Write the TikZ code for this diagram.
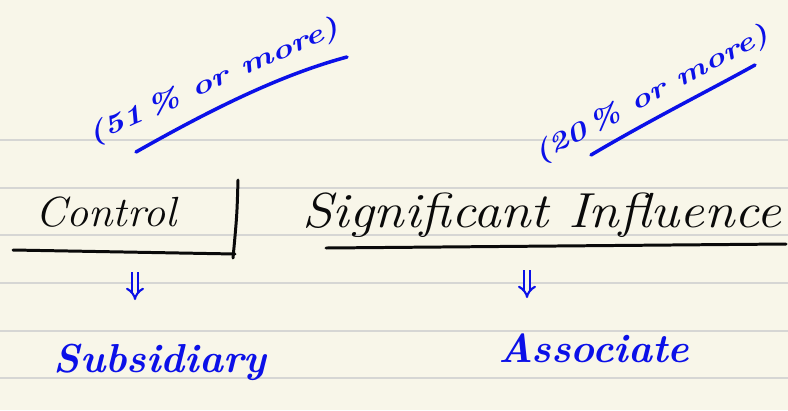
\documentclass[tikz,border=0pt]{standalone}
\usetikzlibrary{arrows.meta}
\definecolor{paper}{HTML}{F8F6E9}
\definecolor{rule}{HTML}{D6D6D4}
\definecolor{ink}{HTML}{0A0A0A}
\definecolor{pen}{HTML}{0B10E8}
\tikzset{
  ruleline/.style={draw=rule, line width=1.1pt},
  blk/.style={text=ink, inner sep=0pt},
  blu/.style={text=pen, inner sep=0pt},
  inkline/.style={draw=ink, line width=1.7pt, line cap=round},
  penline/.style={draw=pen, line width=2pt, line cap=round},
  darr/.style={draw=pen, line width=1.2pt, double=paper, double distance=2.2pt, -{Implies}},
}
\begin{document}
\begin{tikzpicture}[x=0.02cm, y=-0.02cm]
\fill[paper] (0,0) rectangle (788,410);
\useasboundingbox (0,0) rectangle (788,410);
\foreach \yy in {140,188,235,283,331,378} \draw[ruleline] (0,\yy) -- (788,\yy);
% annotations
\node[blu, rotate=24, font=\bfseries\itshape\fontsize{15}{18}\selectfont, xscale=1.35] (c51) at (214,82) {(51\,\% or more)};
\draw[penline] (136,152) .. controls (210,110) and (280,75) .. (347,57);
\node[blu, rotate=28, font=\bfseries\itshape\fontsize{15}{18}\selectfont, xscale=1.3] (c20) at (652,95) {(20\,\% or more)};
\draw[penline] (591,155) .. controls (650,120) and (710,90) .. (755,65);
% headings
\node[blk, font=\itshape\fontsize{24}{28}\selectfont, xscale=1.05] (ctrl) at (106,212) {Control};
\draw[inkline] (13,250) -- (235,254);
\draw[inkline] (238,180) .. controls (237,215) .. (233,258);
\node[blk, font=\itshape\fontsize{28}{32}\selectfont, xscale=1.12] (sig) at (542,215) {Significant Influence};
\draw[inkline] (326,248) -- (786,244);
% arrows
\coordinate (a1s) at (135,272);
\coordinate (a1e) at (135,300);
\coordinate (a2s) at (527,270);
\coordinate (a2e) at (527,298);
\draw[darr] (a1s) -- (a1e);
\draw[darr] (a2s) -- (a2e);
% results
\node[blu, font=\bfseries\itshape\fontsize{23}{28}\selectfont] (sub) at (160,362) {Subsidiary};
\node[blu, font=\bfseries\itshape\fontsize{23}{28}\selectfont] (asc) at (594,348) {Associate};
\end{tikzpicture}
\end{document}
